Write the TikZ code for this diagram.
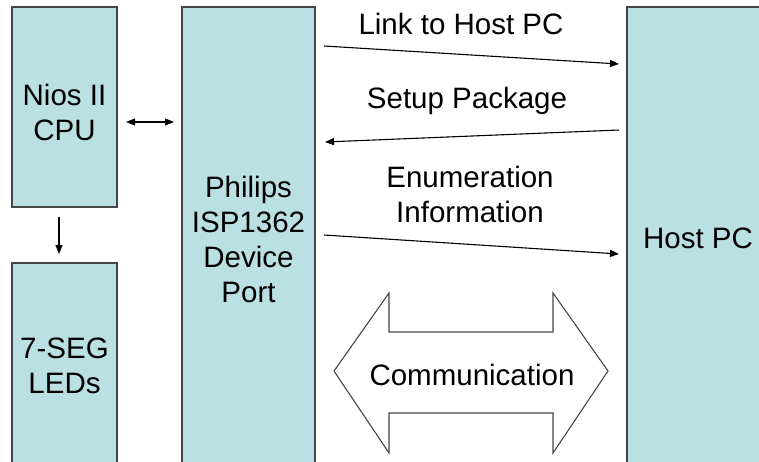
\documentclass[tikz,border=0pt]{standalone}
\usepackage{fontspec}
\setmainfont{Liberation Sans}
\usetikzlibrary{arrows.meta}
\definecolor{boxfill}{RGB}{187,224,227}
\definecolor{boxline}{RGB}{70,70,70}
\begin{document}
\begin{tikzpicture}[x=1pt,y=-1pt,
  blk/.style={draw=boxline,line width=1.4pt,fill=boxfill,inner sep=0pt,outer sep=0pt},
  lbl/.style={font=\fontsize{29.5}{35}\selectfont,align=center,inner sep=0pt},
  conn/.style={line width=1.1pt,-{Triangle[length=9pt,width=7pt]}},
  conn2/.style={line width=1.1pt,{Triangle[length=9pt,width=7pt]}-{Triangle[length=9pt,width=7pt]}}]
\useasboundingbox (0,0) rectangle (759,461);
\clip (0,0) rectangle (759,461);
% boxes
\node[blk,minimum width=105pt,minimum height=200pt] (nios) at (64.5,107) {};
\node[blk,minimum width=105pt,minimum height=210pt] (seg) at (64.5,368) {};
\node[blk,minimum width=133pt,minimum height=470pt] (isp) at (248.5,242) {};
\node[blk,minimum width=160pt,minimum height=470pt] (host) at (707,242) {};
% box texts
\node[lbl] (niost) at (64.5,112) {Nios II\\CPU};
\node[lbl] (segt) at (64.5,366) {7-SEG\\LEDs};
\node[lbl] (ispt) at (248.5,239) {Philips\\ISP1362\\Device\\Port};
\node[lbl] (hostt) at (698,238) {Host PC};
% connector end points
\coordinate (a1) at (126,122);
\coordinate (a2) at (174,122);
\coordinate (d1) at (59,217);
\coordinate (d2) at (59,254);
\coordinate (l1) at (324,46);
\coordinate (l2) at (619,64);
\coordinate (s1) at (619,130);
\coordinate (s2) at (325,142);
\coordinate (e1) at (324,235);
\coordinate (e2) at (619,254);
\draw[conn2] (a1) -- (a2);
\draw[conn] (d1) -- (d2);
\draw[conn] (l1) -- (l2);
\draw[conn] (s1) -- (s2);
\draw[conn] (e1) -- (e2);
% labels
\node[lbl] (lt) at (461,24) {Link to Host PC};
\node[lbl] (st) at (467,101) {Setup Package};
\node[lbl] (et) at (470,194) {Enumeration\\Information};
% communication arrow
\draw[line width=1.1pt,draw=boxline,fill=white,line join=miter]
  (334,371) -- (389,293) -- (389,332) -- (553,332) -- (553,293) -- (608,371)
  -- (553,453) -- (553,413) -- (389,413) -- (389,453) -- cycle;
\node[lbl] (ct) at (472,375) {Communication};
\end{tikzpicture}
\end{document}
